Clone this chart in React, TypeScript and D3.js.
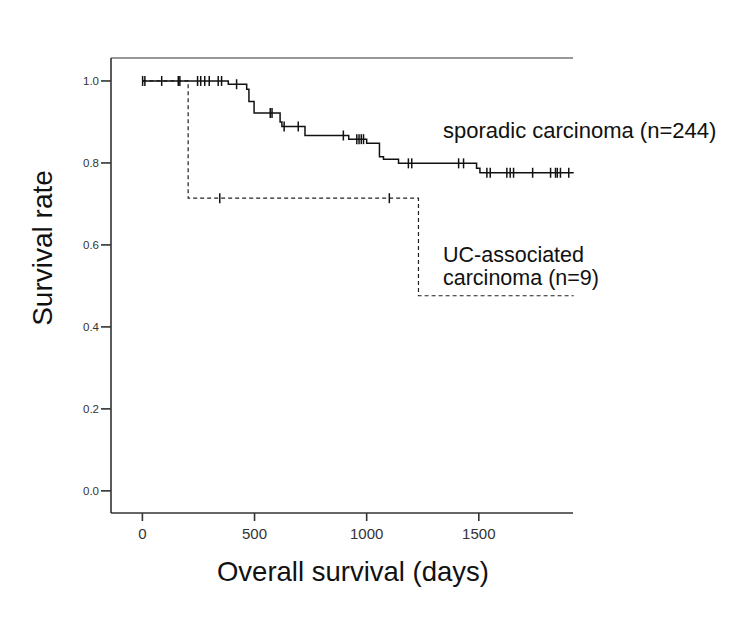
import React from "react";
import * as d3 from "d3";

const xTicks = [0, 500, 1000, 1500];
const yTicks = [0.0, 0.2, 0.4, 0.6, 0.8, 1.0];

// Sporadic carcinoma (n=244)
const sporadicTimes = [0, 383, 465, 475, 498, 614, 622, 725, 920, 1000, 1057, 1075, 1142, 1490, 1505];
const sporadicSurv = [1.0, 0.992, 0.98, 0.95, 0.922, 0.9, 0.889, 0.867, 0.858, 0.848, 0.815, 0.809, 0.799, 0.787, 0.776];
const sporadicCensor = [1, 11, 86, 160, 167, 246, 260, 278, 298, 338, 353, 420, 570, 578, 632, 695, 896, 956, 966, 976, 986, 1186, 1201, 1410, 1432, 1536, 1551, 1625, 1640, 1655, 1740, 1820, 1842, 1850, 1864, 1901];
const sporadicEnd = 1923;

// UC-associated carcinoma (n=9)
const ucTimes = [0, 204, 1231];
const ucSurv = [1.0, 0.714, 0.476];
const ucCensor = [345, 1101];
const ucEnd = 1923;

const W = 746;
const H = 622;

function survAt(times: number[], surv: number[], t: number) {
  let s = surv[0];
  for (let i = 0; i < times.length; i++) if (times[i] <= t) s = surv[i];
  return s;
}

export default function App() {
  const x = d3.scaleLinear().domain([-140, 1920]).range([111, 573]);
  const y = d3.scaleLinear().domain([-0.054, 1.056]).range([513, 58]);

  const line = d3
    .line<[number, number]>()
    .x((d) => x(d[0]))
    .y((d) => y(d[1]))
    .curve(d3.curveStepAfter);

  const pts = (times: number[], surv: number[], end: number): [number, number][] => {
    const p: [number, number][] = times.map((t, i) => [t, surv[i]]);
    p.push([end, surv[surv.length - 1]]);
    return p;
  };

  const spPath = line(pts(sporadicTimes, sporadicSurv, sporadicEnd)) || "";
  const ucPath = line(pts(ucTimes, ucSurv, ucEnd)) || "";

  const font = "'Liberation Sans', Arial, sans-serif";

  return (
    <div style={{ position: "absolute", left: 0, top: 0 }}>
      <svg width={W} height={H} style={{ display: "block", background: "#fff" }}>
        <rect x={0} y={0} width={W} height={H} fill="#fff" />
        {/* frame */}
        <line x1={111} x2={573} y1={58} y2={58} stroke="#333" strokeWidth={1.2} />
        <line x1={111} x2={111} y1={58} y2={513} stroke="#333" strokeWidth={1.6} />
        <line x1={111} x2={573} y1={513} y2={513} stroke="#333" strokeWidth={1.6} />
        {/* y ticks */}
        {yTicks.map((t) => (
          <g key={"y" + t}>
            <line x1={101} x2={111} y1={y(t)} y2={y(t)} stroke="#333" strokeWidth={1.6} />
            <text x={99} y={y(t) + 4.5} textAnchor="end" fontSize={11.5} fontFamily={font} fill="#333">
              {t.toFixed(1)}
            </text>
          </g>
        ))}
        {/* x ticks */}
        {xTicks.map((t) => (
          <g key={"x" + t}>
            <line x1={x(t)} x2={x(t)} y1={513} y2={521} stroke="#333" strokeWidth={1.6} />
            <text x={x(t)} y={539} textAnchor="middle" fontSize={15} fontFamily={font} fill="#333">
              {t}
            </text>
          </g>
        ))}
        {/* curves */}
        <path d={ucPath} fill="none" stroke="#222" strokeWidth={1.2} strokeDasharray="4,3" />
        <path d={spPath} fill="none" stroke="#111" strokeWidth={1.5} />
        {sporadicCensor.map((t, i) => (
          <line
            key={"sc" + i}
            x1={x(t)}
            x2={x(t)}
            y1={y(survAt(sporadicTimes, sporadicSurv, t)) - 5}
            y2={y(survAt(sporadicTimes, sporadicSurv, t)) + 5}
            stroke="#111"
            strokeWidth={1.5}
          />
        ))}
        {ucCensor.map((t, i) => (
          <line
            key={"uc" + i}
            x1={x(t)}
            x2={x(t)}
            y1={y(survAt(ucTimes, ucSurv, t)) - 5}
            y2={y(survAt(ucTimes, ucSurv, t)) + 5}
            stroke="#111"
            strokeWidth={1.5}
          />
        ))}
        {/* annotations */}
        <text x={443} y={138} fontSize={22} fontFamily={font} fill="#111">
          sporadic carcinoma (n=244)
        </text>
        <text x={443} y={262} fontSize={21.5} fontFamily={font} fill="#111">
          UC-associated
        </text>
        <text x={443} y={285} fontSize={21.5} fontFamily={font} fill="#111">
          carcinoma (n=9)
        </text>
        {/* axis titles */}
        <text x={353} y={581} textAnchor="middle" fontSize={27.5} fontFamily={font} fill="#111">
          Overall survival (days)
        </text>
        <text
          transform={`translate(52,248) rotate(-90)`}
          textAnchor="middle"
          fontSize={28}
          fontFamily={font}
          fill="#111"
        >
          Survival rate
        </text>
      </svg>
    </div>
  );
}
